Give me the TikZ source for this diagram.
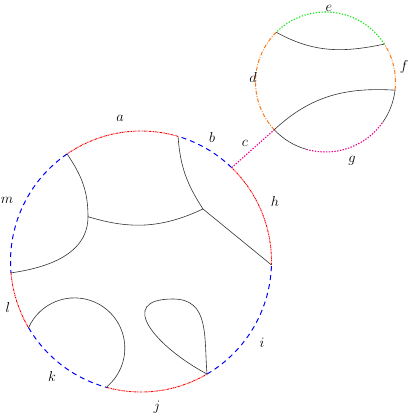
\documentclass[tikz,border=0pt]{standalone}
\begin{document}
\begin{tikzpicture}[x=1pt,y=1pt,
  redarc/.style={draw=red,line width=0.9pt,dash pattern=on 2pt off 0.7pt on 0.7pt off 0.7pt on 0.7pt off 0.7pt},
  bluearc/.style={draw=blue,line width=1pt,dash pattern=on 5pt off 4pt},
  orangearc/.style={draw={rgb,255:red,255;green,120;blue,20},line width=1pt,dash pattern=on 4pt off 1.6pt on 0.8pt off 1.6pt},
  greenarc/.style={draw={rgb,255:red,20;green,230;blue,20},line width=1.1pt,dash pattern=on 1.3pt off 1.6pt},
  magarc/.style={draw=magenta,line width=1.1pt,dash pattern=on 1.4pt off 1.4pt},
  curve/.style={draw=black!80,line width=0.6pt},
  lbl/.style={font=\Large}]
\useasboundingbox (0,0) rectangle (411,415);
% centres
\coordinate (B) at (141,153.5);
\coordinate (S) at (325.5,333);
% points on the big circle
\path (B) ++(73.5:130.5) coordinate (ab);
\path (B) ++(46:130.5) coordinate (bh);
\path (B) ++(-1.5:130.5) coordinate (hi);
\path (B) ++(-59.6:130.5) coordinate (ij);
\path (B) ++(255:130.5) coordinate (jk);
\path (B) ++(210.5:130.5) coordinate (kl);
\path (B) ++(185:130.5) coordinate (lm);
\path (B) ++(124.5:130.5) coordinate (am);
% points on the small circle
\path (S) ++(223:70) coordinate (sc);
\path (S) ++(134.7:70) coordinate (de);
\path (S) ++(32.8:70) coordinate (ef);
\path (S) ++(-6.7:70) coordinate (fk);
\path (S) ++(-35.3:70) coordinate (kg);
\path (S) ++(254.3:70) coordinate (gk);
% big circle arcs
\draw[redarc] (ab) arc[start angle=73.5,end angle=124.5,radius=130.5];
\draw[bluearc] (am) arc[start angle=124.5,end angle=185,radius=130.5];
\draw[redarc] (lm) arc[start angle=185,end angle=210.5,radius=130.5];
\draw[bluearc] (kl) arc[start angle=210.5,end angle=255,radius=130.5];
\draw[redarc] (jk) arc[start angle=255,end angle=300.4,radius=130.5];
\draw[bluearc] (ij) arc[start angle=300.4,end angle=358.5,radius=130.5];
\draw[redarc] (hi) arc[start angle=-1.5,end angle=46,radius=130.5];
\draw[bluearc] (bh) arc[start angle=46,end angle=73.5,radius=130.5];
% small circle arcs
\draw[orangearc] (de) arc[start angle=134.7,end angle=223,radius=70];
\draw[greenarc] (ef) arc[start angle=32.8,end angle=134.7,radius=70];
\draw[orangearc] (fk) arc[start angle=-6.7,end angle=32.8,radius=70];
\draw[curve] (kg) arc[start angle=-35.3,end angle=-6.7,radius=70];
\draw[magarc] (gk) arc[start angle=254.3,end angle=324.7,radius=70];
\draw[curve] (sc) arc[start angle=223,end angle=254.3,radius=70];
% connector c
\draw[magarc] (bh) -- (sc);
% inner curves, big circle
\coordinate (J1) at (88,198.3);
\coordinate (J2) at (203,206);
\coordinate (T) at (173,116);
\draw[curve] (am) to[out=-56,in=90] (J1) to[out=-90,in=8] (lm);
\draw[curve] (J1) to[out=-17,in=205] (J2);
\draw[curve] (ab) to[out=-86,in=123] (J2);
\draw[curve] (J2) -- (hi);
\draw[curve] (kl) arc[start angle=156,end angle=-49,radius=50.3] -- (jk);
\draw[curve] (ij) to[out=95,in=0,looseness=1.15] (T) to[out=180,in=152,looseness=1.8] (ij);
% inner curves, small circle
\draw[curve] (de) to[out=-29,in=192] (ef);
\draw[curve] (sc) to[out=43,in=176.5] (fk);
% labels
\node[lbl] (tA) at (120,297) {$a$};
\node[lbl] (tB) at (212,277) {$b$};
\node[lbl] (tC) at (245,272) {$c$};
\node[lbl] (tD) at (253,337) {$d$};
\node[lbl] (tE) at (329,407) {$e$};
\node[lbl] (tF) at (404,348) {$f$};
\node[lbl] (tG) at (352,254) {$g$};
\node[lbl] (tH) at (275,213) {$h$};
\node[lbl] (tI) at (262,72) {$i$};
\node[lbl] (tJ) at (157,8) {$j$};
\node[lbl] (tK) at (52,38) {$k$};
\node[lbl] (tL) at (8,107) {$l$};
\node[lbl] (tM) at (7,215) {$m$};
\end{tikzpicture}
\end{document}
